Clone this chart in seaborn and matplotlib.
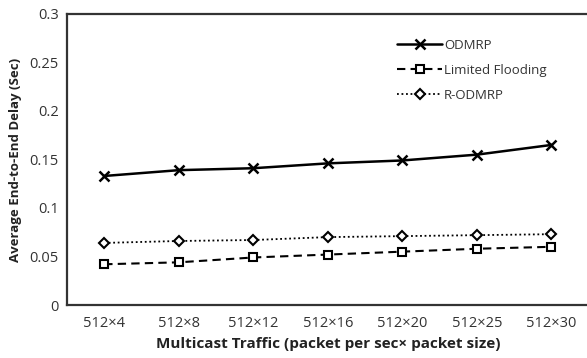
import matplotlib
matplotlib.use("Agg")
import matplotlib.pyplot as plt
import seaborn as sns
import pandas as pd

categories = ["512×4", "512×8", "512×12", "512×16", "512×20", "512×25", "512×30"]
odmrp = [0.133, 0.139, 0.141, 0.146, 0.149, 0.155, 0.165]
limited_flooding = [0.042, 0.044, 0.049, 0.052, 0.055, 0.058, 0.060]
r_odmrp = [0.064, 0.066, 0.067, 0.070, 0.071, 0.072, 0.073]
series_names = ["ODMRP", "Limited Flooding", "R-ODMRP"]

sns.set_theme(style="white")
plt.rcParams['font.family'] = ['Open Sans', 'DejaVu Sans']

rows = []
for name, vals in zip(series_names, [odmrp, limited_flooding, r_odmrp]):
    for c, v in zip(categories, vals):
        rows.append({"cat": c, "delay": v, "series": name})
df = pd.DataFrame(rows)

fig = plt.figure(figsize=(5.87, 3.58), dpi=100)
ax = fig.add_axes([0.114, 0.148, 0.889, 0.813])

styles = {
    "ODMRP": dict(marker="x", linestyle="-", ms=7, mew=1.8, lw=1.8),
    "Limited Flooding": dict(marker="s", linestyle=(0, (4, 2.5)), ms=5.5, mew=1.5, lw=1.5, mfc="white"),
    "R-ODMRP": dict(marker="D", linestyle=(0, (1, 1.5)), ms=5.5, mew=1.5, lw=1.3, mfc="white"),
}
for name in series_names:
    sub = df[df["series"] == name]
    sns.lineplot(data=sub, x="cat", y="delay", ax=ax, color="black", label=name,
                 mec="black", **styles[name])

ax.set_xlim(-0.5, 6.5)
ax.set_ylim(0, 0.3)
ax.set_yticks([0, 0.05, 0.1, 0.15, 0.2, 0.25, 0.3])
ax.set_yticklabels(["0", "0.05", "0.1", "0.15", "0.2", "0.25", "0.3"])
for s in ax.spines.values():
    s.set_color("#333333")
    s.set_linewidth(1.6)
ax.tick_params(axis="both", labelsize=10.5, colors="#333333", length=0, pad=6)
ax.tick_params(axis="x", pad=8)
ax.set_xlabel("Multicast Traffic (packet per sec× packet size)", fontsize=11, fontweight="bold", color="#222222", labelpad=4)
ax.set_ylabel("Average End-to-End Delay (Sec)", fontsize=9.5, fontweight="bold", color="#222222", labelpad=5)

leg = ax.legend(loc="upper left", bbox_to_anchor=(0.61, 0.955), frameon=False, fontsize=9.5,
                handlelength=3.4, handletextpad=0.15, labelspacing=0.9)
for t in leg.get_texts():
    t.set_color("#333333")

fig.savefig("out.png", dpi=100)
